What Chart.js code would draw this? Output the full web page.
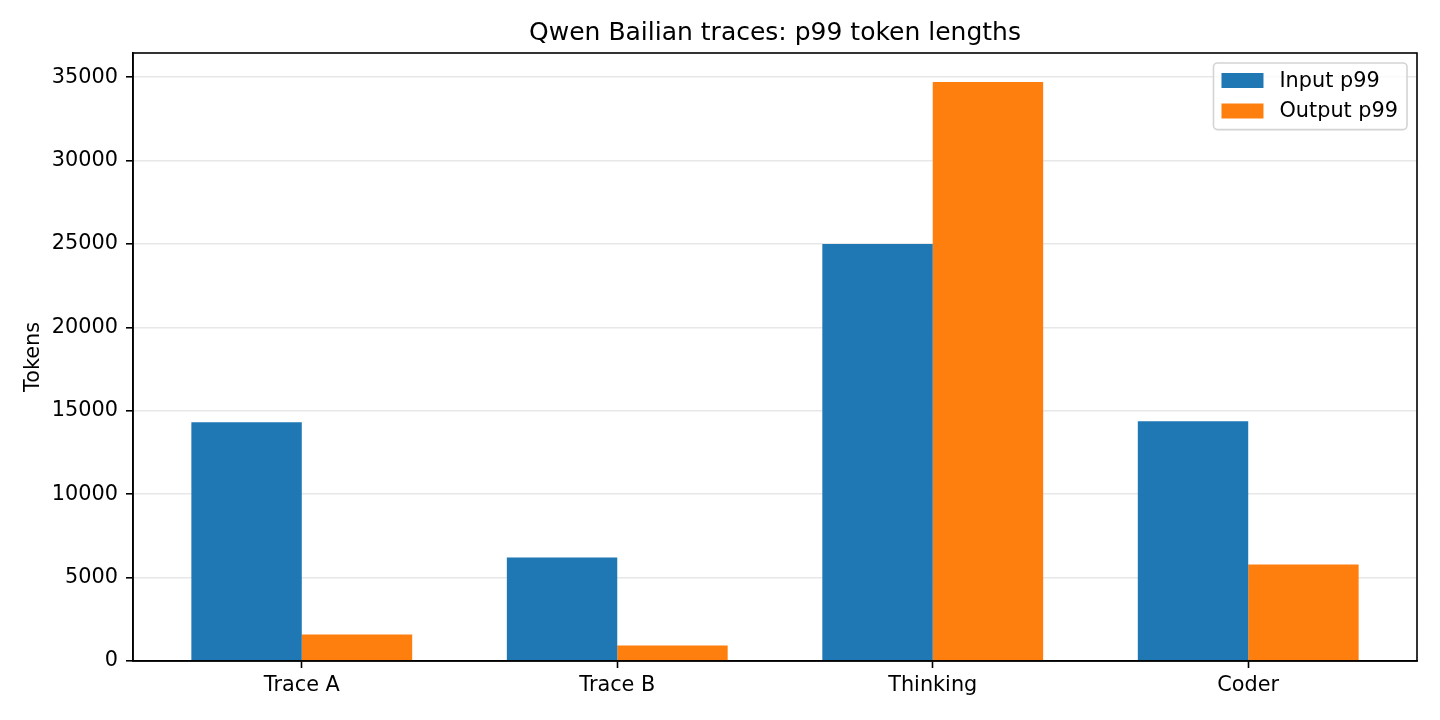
<!DOCTYPE html>
<html>
<head>
<meta charset="utf-8">
<script src="https://cdn.jsdelivr.net/npm/chart.js@4.4.1/dist/chart.umd.min.js"></script>
<style>
  html, body { margin: 0; padding: 0; background: #fff; }
  #chart { display: block; }
</style>
</head>
<body>
<canvas id="chart" width="1440" height="720" style="width:1440px;height:720px"></canvas>
<script>
const categories = ['Trace A', 'Trace B', 'Thinking', 'Coder'];
const inputP99 = [14310, 6210, 24990, 14370];
const outputP99 = [1590, 930, 34710, 5790];
const yTicks = [0, 5000, 10000, 15000, 20000, 25000, 30000, 35000];
const seriesLabels = ['Input p99', 'Output p99'];
const seriesColors = ['#1f77b4', '#ff7f0e'];

const FONT = "'DejaVu Sans', 'Liberation Sans', sans-serif";
const TXT = 20.8;

// matplotlib style limits: bars span +-0.35 around each slot, 5% margins
var xMin = -0.35 - 0.05 * (categories.length - 1 + 0.7);
var xMax = categories.length - 1 + 0.35 + 0.05 * (categories.length - 1 + 0.7);
var yMax = Math.max.apply(null, inputP99.concat(outputP99)) * 1.05;

function points(values) {
    return values.map(function (v, i) { return { x: i, y: v }; });
}

const framePlugin = {
    id: 'frame',
    afterDraw: function (chart) {
        var ctx = chart.ctx, a = chart.chartArea;
        ctx.save();
        ctx.strokeStyle = '#000';
        ctx.lineWidth = 1.6;
        ctx.strokeRect(a.left, a.top, a.right - a.left, a.bottom - a.top);
        ctx.restore();
    }
};

const legendBox = {
    id: 'legendBox',
    afterDraw: function (chart) {
        var ctx = chart.ctx, a = chart.chartArea;
        var sets = chart.data.datasets;
        ctx.save();
        ctx.font = TXT + 'px ' + FONT;
        var textW = 0;
        sets.forEach(function (d) { textW = Math.max(textW, ctx.measureText(d.label).width); });
        var w = 8 + 42 + 16 + textW + 9;
        var rowH = 30.5;
        var h = 17.5 + rowH * (sets.length - 1) + 18.6;
        var x = a.right - 10 - w, y = a.top + 10;

        ctx.beginPath();
        ctx.roundRect(x, y, w, h, 4);
        ctx.fillStyle = 'rgba(255,255,255,0.8)';
        ctx.fill();
        ctx.strokeStyle = '#d4d4d4';
        ctx.lineWidth = 1.6;
        ctx.stroke();

        ctx.textBaseline = 'middle';
        ctx.textAlign = 'left';
        sets.forEach(function (d, i) {
            var cy = y + 17.5 + i * rowH;
            ctx.fillStyle = d.backgroundColor;
            ctx.fillRect(x + 8, cy - 7.5, 42, 15);
            ctx.fillStyle = '#000';
            ctx.fillText(d.label, x + 8 + 42 + 16, cy + 1);
        });
        ctx.restore();
    }
};

const chart = new Chart(document.getElementById('chart').getContext('2d'), {
    type: 'bar',
    data: {
        datasets: [
            {
                label: seriesLabels[0],
                data: points(inputP99),
                backgroundColor: seriesColors[0],
                borderWidth: 0
            },
            {
                label: seriesLabels[1],
                data: points(outputP99),
                backgroundColor: seriesColors[1],
                borderWidth: 0
            }
        ]
    },
    options: {
        responsive: false,
        devicePixelRatio: 1,
        animation: false,
        categoryPercentage: 0.7,
        barPercentage: 1.0,
        layout: { padding: { left: 0, right: 23, top: 0, bottom: 0 } },
        plugins: {
            legend: { display: false },
            tooltip: { enabled: false },
            title: {
                display: true,
                text: 'Qwen Bailian traces: p99 token lengths',
                fullSize: false,
                color: '#000',
                font: { family: FONT, size: 25, weight: 'normal' },
                padding: { top: 18, bottom: 5 }
            }
        },
        scales: {
            x: {
                type: 'linear',
                min: xMin,
                max: xMax,
                offset: false,
                afterBuildTicks: function (axis) {
                    axis.ticks = categories.map(function (c, i) { return { value: i }; });
                },
                afterFit: function (axis) { axis.height = 59; },
                ticks: {
                    color: '#000',
                    font: { family: FONT, size: TXT },
                    padding: 5,
                    maxRotation: 0,
                    autoSkip: false,
                    callback: function (value) { return categories[value]; }
                },
                grid: {
                    offset: false,
                    drawOnChartArea: false,
                    drawTicks: true,
                    tickLength: 7,
                    tickColor: '#000',
                    tickWidth: 1.6
                },
                border: { display: true, color: '#000', width: 1.6 }
            },
            y: {
                min: 0,
                max: yMax,
                z: 1,
                afterBuildTicks: function (axis) {
                    axis.ticks = yTicks.map(function (v) { return { value: v }; });
                },
                afterFit: function (axis) { axis.width = 133; },
                ticks: {
                    color: '#000',
                    font: { family: FONT, size: TXT },
                    padding: 8,
                    callback: function (value) { return String(value); }
                },
                grid: {
                    color: 'rgba(176,176,176,0.3)',
                    lineWidth: 1.6,
                    drawTicks: true,
                    tickLength: 7,
                    tickColor: '#000',
                    tickWidth: 1.6
                },
                border: { display: true, color: '#000', width: 1.6 },
                title: {
                    display: true,
                    text: 'Tokens',
                    color: '#000',
                    font: { family: FONT, size: TXT },
                    padding: { top: 21, bottom: 0 }
                }
            }
        }
    },
    plugins: [framePlugin, legendBox]
});
</script>
</body>
</html>
